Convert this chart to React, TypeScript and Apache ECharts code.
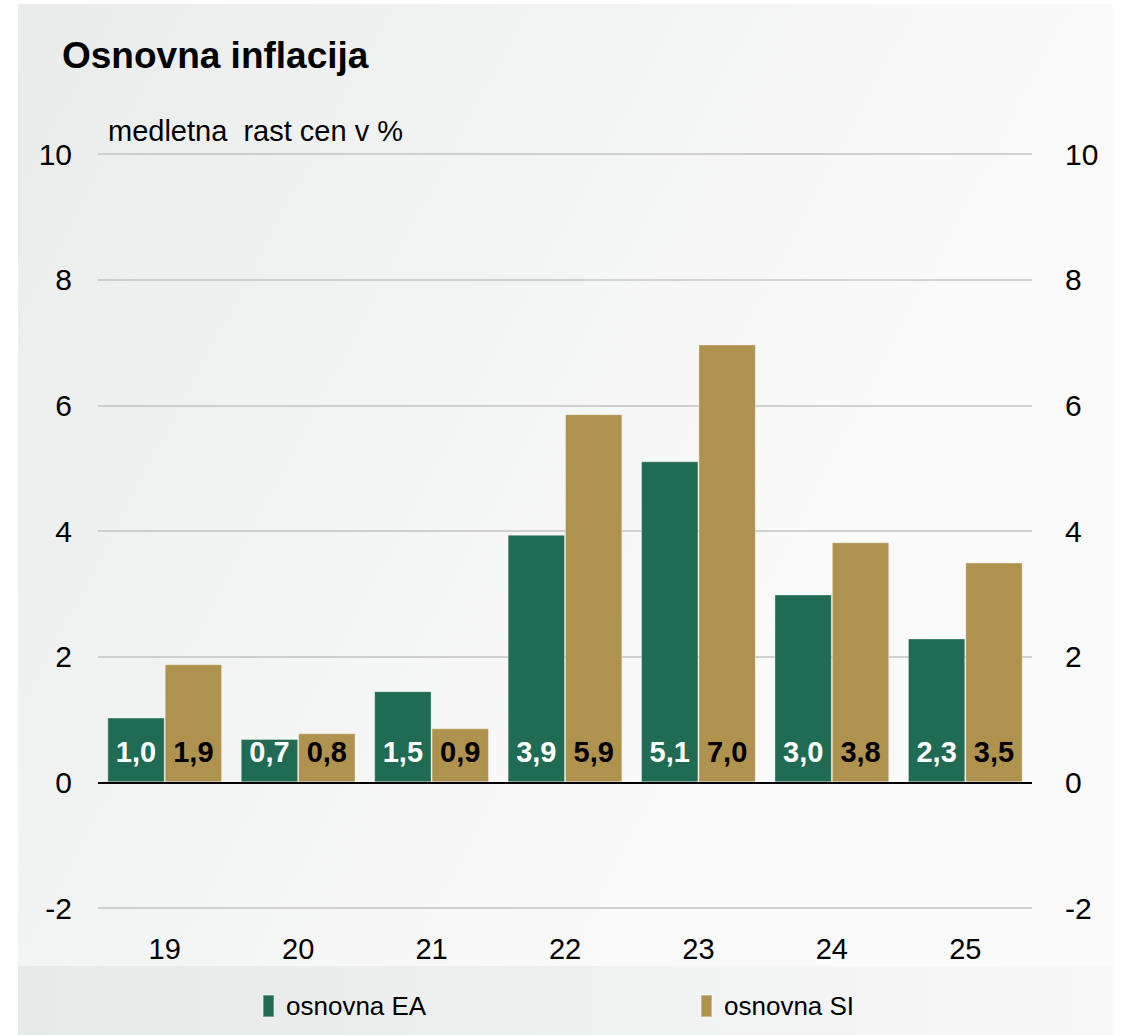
import React, { useEffect, useRef } from "react";
import * as echarts from "echarts";

const categories = ["19", "20", "21", "22", "23", "24", "25"];
const seriesNames = ["osnovna EA", "osnovna SI"];
const eaValues = [1.03, 0.69, 1.45, 3.94, 5.11, 2.99, 2.29];
const siValues = [1.88, 0.78, 0.86, 5.86, 6.97, 3.82, 3.5];
const yTicks = { min: -2, max: 10, interval: 2 };
const titleText = "Osnovna inflacija";
const subtitleText = "medletna  rast cen v %";

const FONT = "'Liberation Sans', Arial, sans-serif";
const GREEN = "#206b53";
const GOLD = "#b0924f";

const fmt = (v: number) => (Math.round(v * 10) / 10).toFixed(1).replace(".", ",");

export default function App() {
  const ref = useRef<HTMLDivElement>(null);
  useEffect(() => {
    if (!ref.current) return;
    const chart = echarts.init(ref.current, null, { renderer: "svg" });
    const barLabel = (color: string) => ({
      show: true,
      position: "insideBottom" as const,
      distance: 16,
      color,
      fontFamily: FONT,
      fontWeight: "bold" as const,
      fontSize: 29,
      formatter: (p: any) => fmt(p.value),
    });
    const axisLabelStyle = { color: "#000", fontFamily: FONT, fontSize: 30 };
    const legendBase = {
      top: 993,
      padding: 0,
      itemWidth: 11,
      itemHeight: 22,
      icon: "rect",
      textStyle: { color: "#000", fontFamily: FONT, fontSize: 26, padding: [0, 0, 0, 7] },
    };
    chart.setOption({
      animation: false,
      textStyle: { fontFamily: FONT },
      graphic: [
        {
          type: "rect",
          z: -10,
          silent: true,
          shape: { x: 18, y: 4, width: 1095, height: 1031 },
          style: {
            fill: new echarts.graphic.LinearGradient(0, 0, 0.8, 0.4, [
              { offset: 0, color: "#eaecec" },
              { offset: 1, color: "#fafafa" },
            ]),
          },
        },
        {
          type: "rect",
          z: -9,
          silent: true,
          shape: { x: 18, y: 966, width: 1095, height: 69 },
          style: {
            fill: new echarts.graphic.LinearGradient(0, 0, 1, 0, [
              { offset: 0, color: "#e6e9e8" },
              { offset: 1, color: "#f8f8f8" },
            ]),
          },
        },
        {
          type: "text",
          x: 62,
          y: 55,
          style: {
            text: titleText,
            fill: "#000",
            font: `bold 37px ${FONT}`,
            textVerticalAlign: "middle",
          },
        },
        {
          type: "text",
          x: 108,
          y: 131,
          style: {
            text: subtitleText,
            fill: "#000",
            font: `29px ${FONT}`,
            textVerticalAlign: "middle",
          },
        },
      ],
      grid: { left: 98, right: 90, top: 154, bottom: 127, containLabel: false },
      legend: [
        { ...legendBase, data: [seriesNames[0]], left: 262 },
        { ...legendBase, data: [seriesNames[1]], left: 700 },
      ],
      xAxis: {
        type: "category",
        data: categories,
        axisLine: { show: false },
        axisTick: { show: false },
        axisLabel: { ...axisLabelStyle, fontSize: 29, margin: 26 },
      },
      yAxis: [
        {
          type: "value",
          min: yTicks.min,
          max: yTicks.max,
          interval: yTicks.interval,
          position: "left",
          axisLine: { show: false },
          axisTick: { show: false },
          axisLabel: { ...axisLabelStyle, margin: 26 },
          splitLine: { lineStyle: { color: "#c3c3c3", width: 1.5 } },
        },
        {
          type: "value",
          min: yTicks.min,
          max: yTicks.max,
          interval: yTicks.interval,
          position: "right",
          axisLine: { show: false },
          axisTick: { show: false },
          axisLabel: { ...axisLabelStyle, margin: 33 },
          splitLine: { show: false },
        },
      ],
      series: [
        {
          name: seriesNames[0],
          type: "bar",
          data: eaValues,
          barGap: "0%",
          barCategoryGap: "14%",
          itemStyle: { color: GREEN, borderColor: "rgba(255,255,255,0.35)", borderWidth: 1 },
          label: barLabel("#fff"),
          markLine: {
            silent: true,
            symbol: "none",
            label: { show: false },
            lineStyle: { color: "#000", width: 2, type: "solid" },
            data: [{ yAxis: 0 }],
          },
        },
        {
          name: seriesNames[1],
          type: "bar",
          data: siValues,
          itemStyle: { color: GOLD, borderColor: "rgba(255,255,255,0.35)", borderWidth: 1 },
          label: barLabel("#000"),
        },
      ],
    });
    return () => chart.dispose();
  }, []);
  return (
    <div
      ref={ref}
      style={{ position: "absolute", left: 0, top: 0, width: 1122, height: 1035, background: "#fff" }}
    />
  );
}
